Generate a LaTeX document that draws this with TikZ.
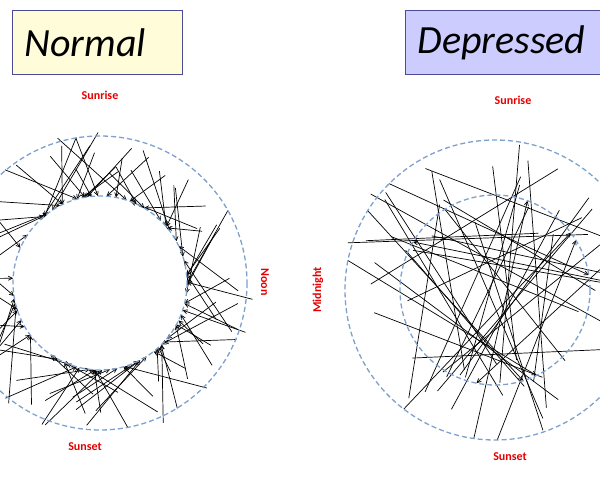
\documentclass[tikz,border=0pt]{standalone}
\usepackage{fontspec}
\setmainfont{Carlito}
\usetikzlibrary{arrows.meta,calc}
\definecolor{ringc}{RGB}{125,160,205}
\begin{document}
\begin{tikzpicture}[x=1pt,y=-1pt,
  ring/.style={draw=ringc, dash pattern=on 5pt off 3pt, line width=1.3pt},
  title/.style={draw=blue!40!black!70, line width=0.8pt, minimum height=64pt, anchor=north west, font=\itshape\fontsize{40}{40}\selectfont, inner xsep=12pt, align=left, text width=#1, minimum width=#1},
  lab/.style={text=red!90!black, font=\bfseries\fontsize{12}{12}\selectfont},
  chord/.style={black, line width=0.7pt}]
\useasboundingbox (0,0) rectangle (600,500);
\begin{scope}
\clip (0,0) rectangle (600,500);
% Normal
\coordinate (c1) at (100,283);
\pgfmathsetseed{7}
\foreach \i in {1,...,90}{
  \pgfmathsetmacro\a{360*rnd}
  \pgfmathsetmacro\b{\a+80*rnd-40}
  \pgfmathsetmacro\r{110+45*rnd}
  \draw[chord,-{Straight Barb[length=4pt,width=4pt]}] ($(c1)+(\b:\r)$) -- ($(c1)+(\a:87)$);
}
\draw[ring] (c1) circle (147);
\draw[ring] (c1) circle (87);
% Depressed
\coordinate (c2) at (495,290);
\pgfmathsetseed{11}
\foreach \i in {1,...,32}{
  \pgfmathsetmacro\a{360*rnd}
  \pgfmathsetmacro\b{\a+100+160*rnd}
  \pgfmathsetmacro\r{70+90*rnd}
  \pgfmathsetmacro\s{90+70*rnd}
  \draw[chord] ($(c2)+(\a:\r)$) -- ($(c2)+(\b:\s)$);
}
\foreach \i in {1,...,8}{
  \pgfmathsetmacro\a{360*rnd}
  \pgfmathsetmacro\b{\a+120+120*rnd}
  \draw[chord,-{Straight Barb[length=4pt,width=4pt]}] ($(c2)+(\b:150)$) -- ($(c2)+(\a:95)$);
}
\draw[ring] (c2) circle (150);
\draw[ring] (c2) circle (95);
\node[title=146pt, fill=yellow!15] (n) at (12,10) {Normal};
\node[title=200pt, fill=blue!20] (d) at (405,10) {Depressed};
\end{scope}
\node[lab] (sr1) at (100,95) {Sunrise};
\node[lab, rotate=-90] (noon) at (265,282) {Noon};
\node[lab] (ss1) at (85,447) {Sunset};
\node[lab] (sr2) at (513,100) {Sunrise};
\node[lab, rotate=90] (mid) at (318,290) {Midnight};
\node[lab] (ss2) at (510,457) {Sunset};
\end{tikzpicture}
\end{document}
